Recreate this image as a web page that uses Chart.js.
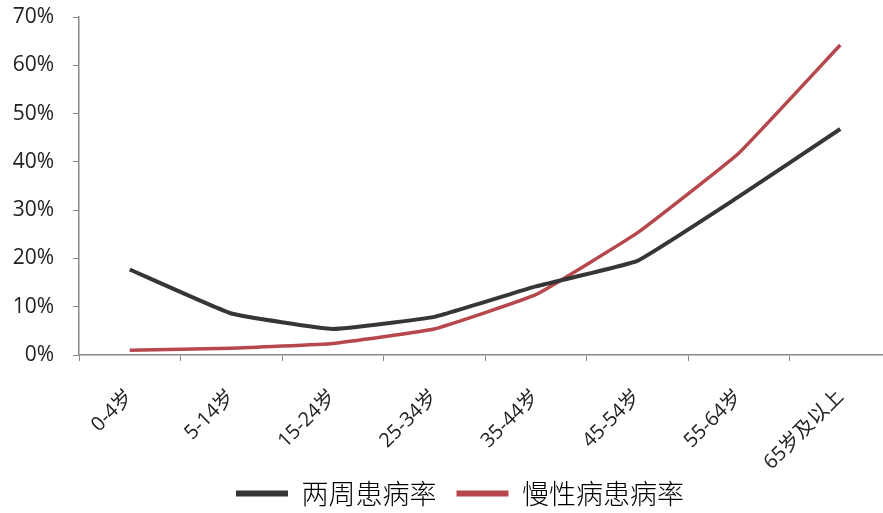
<!DOCTYPE html>
<html>
<head>
<meta charset="utf-8">
<script src="https://cdn.jsdelivr.net/npm/chart.js@4/dist/chart.umd.min.js"></script>
<style>
  html, body { margin: 0; padding: 0; background: #fff; overflow: hidden; }
  #wrap { width: 920px; height: 513px; }
</style>
</head>
<body>
<div id="wrap"><canvas id="c" width="920" height="513"></canvas></div>
<script>
// age groups
const categories = ['0-4岁', '5-14岁', '15-24岁', '25-34岁', '35-44岁', '45-54岁', '55-64岁', '65岁及以上'];
// 两周患病率 (%)
const twoWeekRate = [17.7, 8.6, 5.4, 7.9, 14.2, 19.5, 32.8, 46.8];
// 慢性病患病率 (%)
const chronicRate = [1.0, 1.4, 2.4, 5.4, 12.5, 25.3, 41.8, 64.2];
const yTicks = [0, 10, 20, 30, 40, 50, 60, 70];

const fontFam = '"Open Sans", "Noto Sans CJK SC", sans-serif';

// let tick labels run outside their axis boxes (x labels reach into the legend row)
const noLabelClip = {
  id: 'noLabelClip',
  beforeDraw(chart) {
    chart.scales.x._computeLabelArea = () => undefined;
    chart.scales.y._computeLabelArea = () => undefined;
  },
};

const ctx = document.getElementById('c').getContext('2d');
const chart = new Chart(ctx, {
  type: 'line',
  data: {
    labels: categories,
    datasets: [
      {
        label: '两周患病率',
        data: twoWeekRate,
        borderColor: '#363636',
        backgroundColor: '#363636',
        borderWidth: 4,
        pointRadius: 0,
        tension: 0.1,
      },
      {
        label: '慢性病患病率',
        data: chronicRate,
        borderColor: '#b6474c',
        backgroundColor: '#b6474c',
        borderWidth: 3.5,
        pointRadius: 0,
        tension: 0.1,
      },
    ],
  },
  options: {
    responsive: false,
    animation: false,
    layout: { padding: { top: 0, right: 29, left: 29, bottom: -4 } },
    plugins: {
      tooltip: { enabled: false },
      legend: {
        position: 'bottom',
        labels: {
          boxWidth: 52,
          boxHeight: 6,
          padding: 20,
          color: '#555',
          font: { family: '"Noto Sans CJK SC", sans-serif', size: 27, weight: '300' },
          generateLabels: (c) => c.data.datasets.map((d, i) => ({
            text: d.label,
            fillStyle: d.borderColor,
            strokeStyle: d.borderColor,
            lineWidth: 0,
            datasetIndex: i,
          })),
        },
      },
    },
    scales: {
      x: {
        offset: true,
        grid: { offset: true, drawOnChartArea: false, drawTicks: true, tickLength: 6, color: '#888' },
        border: { color: '#888', width: 1.5 },
        ticks: {
          maxRotation: 45,
          minRotation: 45,
          color: '#222',
          padding: 24,
          font: { family: fontFam, size: 20 },
        },
        afterFit: (s) => { s.height = 105; },
      },
      y: {
        min: 0,
        max: 70,
        afterBuildTicks: (s) => { s.ticks = yTicks.map((v) => ({ value: v })); },
        afterFit: (s) => { s.width = 50; s.paddingTop = 17; s.paddingBottom = 0; },
        grid: { drawOnChartArea: false, drawTicks: true, tickLength: 6, color: '#888' },
        border: { color: '#888', width: 1.5 },
        ticks: {
          color: '#222',
          padding: 19,
          font: { family: fontFam, size: 21, lineHeight: 1 },
          callback: (v) => v + '%',
        },
      },
    },
  },
  plugins: [noLabelClip],
});
</script>
</body>
</html>
